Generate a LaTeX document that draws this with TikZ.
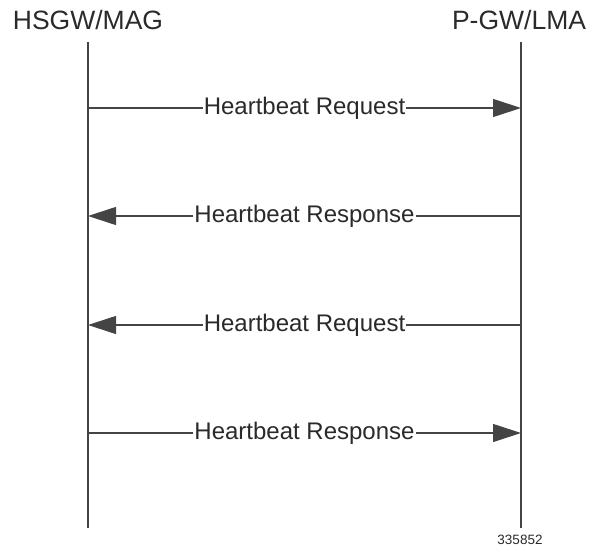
\documentclass[tikz,border=0pt]{standalone}
\usepackage{fontspec}
\setmainfont{Liberation Sans}
\usetikzlibrary{arrows.meta}

\definecolor{linegray}{HTML}{444444}
\definecolor{textgray}{HTML}{2A2A2A}

\tikzset{
	entity/.style={text=textgray, font=\fontsize{26.5}{28}\selectfont, inner sep=0pt},
	lifeline/.style={draw=linegray, line width=1.3pt},
	msg/.style={draw=linegray, line width=1.1pt, -{Triangle[length=28pt,width=18pt]}},
	msglabel/.style={fill=white, text=textgray, font=\fontsize{24}{26}\selectfont, inner sep=1pt}
}

\begin{document}
\begin{tikzpicture}[x=1pt,y=-1pt]
		\useasboundingbox (0,0) rectangle (591,548);
		\node (hsgw) at (88,20) [entity] {HSGW/MAG};
		\node (pgw) at (519,20) [entity] {P-GW/LMA};
		\coordinate (h_top) at (88,42);
		\coordinate (h_bot) at (88,528);
		\coordinate (p_top) at (521,42);
		\coordinate (p_bot) at (521,528);
		\node (fig) at (520,540) [text=textgray, font=\fontsize{13.5}{14}\selectfont, inner sep=0pt] {335852};
		
		\coordinate (h_1) at (88,108);
		\coordinate (p_1) at (521,108);
		\coordinate (h_2) at (88,216);
		\coordinate (p_2) at (521,216);
		\coordinate (h_3) at (88,325);
		\coordinate (p_3) at (521,325);
		\coordinate (h_4) at (88,433);
		\coordinate (p_4) at (521,433);
		
		\draw[lifeline] (h_top) -- (h_bot);
		\draw[lifeline] (p_top) -- (p_bot);
		
		\draw[msg] (h_1) -- node[msglabel] {Heartbeat Request} (p_1);
		\draw[msg] (p_2) -- node[msglabel] {Heartbeat Response} (h_2);
		\draw[msg] (p_3) -- node[msglabel] {Heartbeat Request} (h_3);
		\draw[msg] (h_4) -- node[msglabel] {Heartbeat Response} (p_4);
	\end{tikzpicture}
\end{document}
